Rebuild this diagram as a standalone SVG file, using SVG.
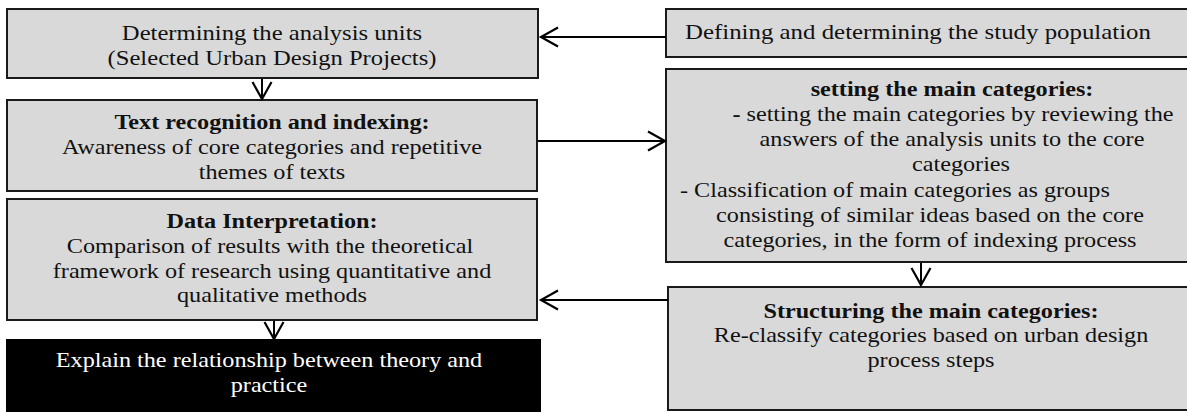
<svg xmlns="http://www.w3.org/2000/svg" width="1187" height="412" viewBox="0 0 1187 412">
<style>
.box{fill:#d9d9d9;stroke:#1a1a1a;stroke-width:2}
.dark{fill:#000;stroke:#000;stroke-width:2}
.t{font-family:"Liberation Serif","Times New Roman",serif;font-size:22px;fill:#111;text-anchor:middle}
.b{font-weight:bold}
.w{fill:#fff}
.st{text-anchor:start}
.c{fill:none;stroke:#000;stroke-width:2}
</style>
<defs>
<marker id="ah" markerUnits="userSpaceOnUse" markerWidth="24" markerHeight="24" viewBox="-20 -12 22 24" refX="0" refY="0" orient="auto">
<path d="M-17,-9.5 L0,0 L-17,9.5" fill="none" stroke="#000" stroke-width="2.2"/>
</marker>
</defs>
<rect width="1187" height="412" fill="#fff"/>

<g id="n1">
<rect class="box" x="7" y="9" width="531" height="69"/>
<text class="t" transform="translate(272,40) scale(1.12,1)">Determining the analysis units</text>
<text class="t" transform="translate(272,65) scale(1.12,1)">(Selected Urban Design Projects)</text>
</g>

<g id="n2">
<rect class="box" x="7" y="100" width="530" height="91"/>
<text class="t b" transform="translate(272,129) scale(1.1,1)">Text recognition and indexing:</text>
<text class="t" transform="translate(272,154) scale(1.1,1)">Awareness of core categories and repetitive</text>
<text class="t" transform="translate(272,179) scale(1.1,1)">themes of texts</text>
</g>

<g id="n3">
<rect class="box" x="7" y="199" width="530" height="121"/>
<text class="t b" transform="translate(272,228) scale(1.1,1)">Data Interpretation:</text>
<text class="t" transform="translate(270,253) scale(1.1,1)">Comparison of results with the theoretical</text>
<text class="t" transform="translate(272,278) scale(1.1,1)">framework of research using quantitative and</text>
<text class="t" transform="translate(272,302) scale(1.1,1)">qualitative methods</text>
</g>

<g id="n4">
<rect class="dark" x="7" y="340" width="533" height="76"/>
<text class="t w" transform="translate(269,367) scale(1.1,1)">Explain the relationship between theory and</text>
<text class="t w" transform="translate(269,392) scale(1.1,1)">practice</text>
</g>

<g id="n5">
<rect class="box" x="666" y="9" width="530" height="48"/>
<text class="t" transform="translate(918,39) scale(1.13,1)">Defining and determining the study population</text>
</g>

<g id="n6">
<rect class="box" x="666" y="69" width="530" height="193"/>
<text class="t b" transform="translate(952,96) scale(1.1,1)">setting the main categories:</text>
<text class="t" transform="translate(953,121) scale(1.1,1)"><tspan class="b">-</tspan> setting the main categories by reviewing the</text>
<text class="t" transform="translate(952,146) scale(1.1,1)">answers of the analysis units to the core</text>
<text class="t" transform="translate(961,171) scale(1.1,1)">categories</text>
<text class="t st" transform="translate(680,197) scale(1.1,1)">- Classification of main categories as groups</text>
<text class="t" transform="translate(930,222) scale(1.1,1)">consisting of similar ideas based on the core</text>
<text class="t" transform="translate(930,247) scale(1.1,1)">categories, in the form of indexing process</text>
</g>

<g id="n7">
<rect class="box" x="668" y="287" width="528" height="123"/>
<text class="t b" transform="translate(931,318) scale(1.1,1)">Structuring the main categories:</text>
<text class="t" transform="translate(931,342) scale(1.1,1)">Re-classify categories based on urban design</text>
<text class="t" transform="translate(931,367) scale(1.1,1)">process steps</text>
</g>

<g id="connectors">
<line class="c" x1="666" y1="37" x2="541" y2="37" marker-end="url(#ah)"/>
<line class="c" x1="262" y1="79" x2="262" y2="99" marker-end="url(#ah)"/>
<line class="c" x1="538" y1="141" x2="665" y2="141" marker-end="url(#ah)"/>
<line class="c" x1="921" y1="263" x2="921" y2="285" marker-end="url(#ah)"/>
<line class="c" x1="668" y1="300" x2="541" y2="300" marker-end="url(#ah)"/>
<line class="c" x1="274" y1="321" x2="274" y2="339" marker-end="url(#ah)"/>
</g>
</svg>
